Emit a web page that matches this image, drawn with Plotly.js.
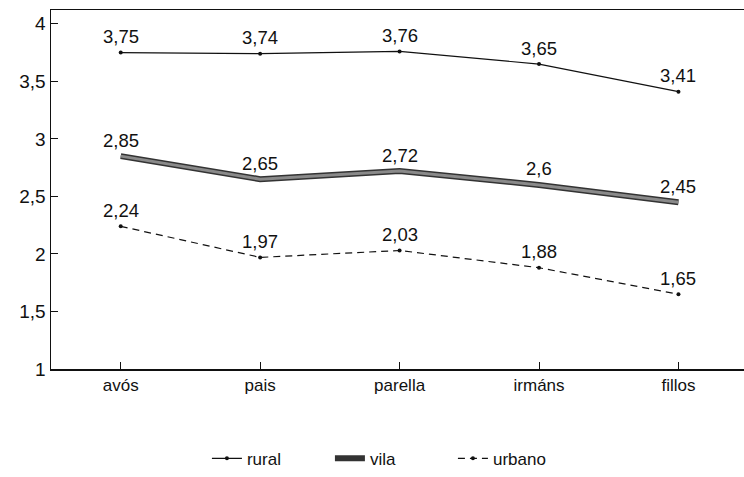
<!DOCTYPE html>
<html><head><meta charset="utf-8">
<script src="https://cdn.plot.ly/plotly-3.0.1.min.js"></script>
<style>html,body{margin:0;padding:0;background:#fff}</style>
</head><body>
<div id="chart" style="width:744px;height:477px"></div>
<script>
var categories = ["avós", "pais", "parella", "irmáns", "fillos"];
var rural = [3.75, 3.74, 3.76, 3.65, 3.41];
var vila = [2.85, 2.65, 2.72, 2.6, 2.45];
var urbano = [2.24, 1.97, 2.03, 1.88, 1.65];
var yTicks = [1, 1.5, 2, 2.5, 3, 3.5, 4];

var font = "Liberation Sans, Arial, sans-serif";
var traces = [
  {x: categories, y: rural, name: "rural", mode: "lines+markers",
   line: {color: "#111", width: 1.2}, marker: {size: 4, color: "#111"}},
  {x: categories, y: vila, name: "vila", mode: "lines",
   line: {color: "#333", width: 6}, legendgroup: "v"},
  {x: categories, y: vila, name: "vila", mode: "lines", showlegend: false,
   line: {color: "#8a8a8a", width: 3}, legendgroup: "v", hoverinfo: "skip"},
  {x: categories, y: urbano, name: "urbano", mode: "lines+markers",
   line: {color: "#111", width: 1.2, dash: "7px,5px"}, marker: {size: 4, color: "#111"}}
];

function fmt(v){ return String(v).replace(".", ","); }
var annotations = [];
[rural, vila, urbano].forEach(function(s){
  s.forEach(function(v, i){
    annotations.push({x: categories[i], y: v, xref: "x", yref: "y", text: fmt(v),
      showarrow: false, yshift: 16, font: {family: font, size: 18.5, color: "#111"}});
  });
});

var layout = {
  width: 744, height: 477,
  margin: {l: 51, r: 0, t: 10, b: 105},
  paper_bgcolor: "#fff", plot_bgcolor: "#fff",
  separators: ", ",
  font: {family: font, size: 18, color: "#111"},
  showlegend: true,
  legend: {orientation: "h", x: 0.225, xanchor: "left", y: -0.25, yanchor: "middle",
    entrywidth: 78, entrywidthmode: "pixels", font: {size: 17}},
  xaxis: {type: "category", range: [-0.5, 4.47], showgrid: false, zeroline: false,
    showline: true, linecolor: "#111", linewidth: 1.5, mirror: true,
    ticks: "inside", ticklen: 7, tickcolor: "#111", tickfont: {size: 17}},
  yaxis: {range: [1, 4.12], tickvals: yTicks, showgrid: false, zeroline: false,
    showline: true, linecolor: "#111", linewidth: 1.5,
    ticks: "inside", ticklen: 7, tickcolor: "#111", tickfont: {size: 19}},
  annotations: annotations
};
Plotly.newPlot("chart", traces, layout, {displayModeBar: false, staticPlot: true});
</script>
</body></html>
